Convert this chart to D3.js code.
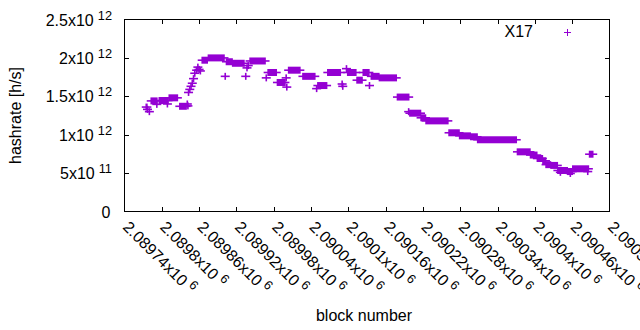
<!DOCTYPE html>
<html><head><meta charset="utf-8">
<script src="https://cdn.jsdelivr.net/npm/d3@7"></script>
<style>html,body{margin:0;padding:0;background:#fff;}svg{display:block;font-family:"Liberation Sans",Arial,sans-serif;}</style>
</head><body>
<svg id="c" width="640" height="330"></svg>
<script>
// Runs of consecutive blocks sharing the same hashrate (block start, block end, hashrate in h/s)
const runStart = [2089775,2089777,2089780,2089783,2089792,2089796,2089809,2089812,2089829,2089841,2089842,2089843,2089845,2089847,2089849,2089851,2089853,2089856,2089858,2089860,2089862,2089865,2089875,2089902,2089904,2089914,2089935,2089937,2089939,2089942,2089968,2089971,2089986,2090000,2090001,2090004,2090027,2090049,2090051,2090067,2090090,2090091,2090097,2090099,2090114,2090124,2090134,2090137,2090150,2090179,2090197,2090199,2090217,2090225,2090262,2090279,2090297,2090308,2090372,2090393,2090404,2090413,2090418,2090426,2090437,2090441,2090453,2090457,2090461,2090485,2090488];
const runEnd   = [2089776,2089777,2089780,2089792,2089792,2089810,2089809,2089825,2089839,2089841,2089842,2089843,2089845,2089847,2089849,2089851,2089853,2089856,2089858,2089860,2089862,2089873,2089900,2089902,2089913,2089932,2089935,2089937,2089939,2089966,2089968,2089984,2089998,2090000,2090001,2090022,2090046,2090049,2090065,2090087,2090090,2090091,2090097,2090112,2090122,2090133,2090134,2090149,2090177,2090197,2090197,2090216,2090224,2090260,2090278,2090296,2090307,2090370,2090392,2090403,2090412,2090417,2090425,2090436,2090452,2090441,2090460,2090457,2090486,2090485,2090493];
const runValue = [1.36e12,1.33e12,1.30e12,1.44e12,1.395e12,1.445e12,1.40e12,1.48e12,1.37e12,1.40e12,1.375e12,1.55e12,1.59e12,1.63e12,1.67e12,1.73e12,1.80e12,1.84e12,1.88e12,1.85e12,1.83e12,1.97e12,2.00e12,1.76e12,1.95e12,1.93e12,1.76e12,1.87e12,1.90e12,1.96e12,1.74e12,1.81e12,1.68e12,1.74e12,1.62e12,1.84e12,1.76e12,1.60e12,1.64e12,1.81e12,1.66e12,1.63e12,1.86e12,1.81e12,1.71e12,1.81e12,1.64e12,1.76e12,1.74e12,1.49e12,1.30e12,1.28e12,1.22e12,1.18e12,1.025e12,0.985e12,0.973e12,0.934e12,0.777e12,0.735e12,0.69e12,0.66e12,0.61e12,0.60e12,0.534e12,0.51e12,0.52e12,0.495e12,0.556e12,0.52e12,0.746e12];

const xTicks = [2089740,2089800,2089860,2089920,2089980,2090040,2090100,2090160,2090220,2090280,2090340,2090400,2090460,2090520];
const xTickMant = ["2.08974","2.0898","2.08986","2.08992","2.08998","2.09004","2.0901","2.09016","2.09022","2.09028","2.09034","2.0904","2.09046","2.09052"];
const xTickExp = "6";
const yTicks = [0,5e11,1e12,1.5e12,2e12,2.5e12];
const yTickMant = ["0","5x10","1x10","1.5x10","2x10","2.5x10"];
const yTickExp = ["","11","12","12","12","12"];
const seriesName = "X17";
const xTitle = "block number";
const yTitle = "hashrate [h/s]";

const color = "#9400d3";
const L = 124.5, R = 609.5, T = 19.5, B = 211.5;
const svg = d3.select("#c");
const x = d3.scaleLinear().domain([xTicks[0], xTicks[xTicks.length-1]]).range([L, R]);
const y = d3.scaleLinear().domain([0, 2.5e12]).range([B, T]);

// ticks (mirrored, inward)
const tk = 4.5;
const g = svg.append("g").attr("stroke","#000").attr("stroke-width",1);
xTicks.slice(1,-1).forEach(v=>{
  const xx = Math.round(x(v)) + 0.5;
  g.append("line").attr("x1",xx).attr("x2",xx).attr("y1",B).attr("y2",B-tk);
  g.append("line").attr("x1",xx).attr("x2",xx).attr("y1",T).attr("y2",T+tk);
});
yTicks.slice(1,-1).forEach(v=>{
  const yy = Math.round(y(v)) + 0.5;
  g.append("line").attr("x1",L).attr("x2",L+tk).attr("y1",yy).attr("y2",yy);
  g.append("line").attr("x1",R).attr("x2",R-tk).attr("y1",yy).attr("y2",yy);
});

// y labels
yTicks.forEach((v,i)=>{
  const yy = y(v);
  const t = svg.append("text").attr("y", yy+6).attr("font-size",16).attr("fill","#000")
    .attr("text-anchor","end");
  if (yTickExp[i]) {
    t.attr("x", 112);
    t.append("tspan").text(yTickMant[i]);
    t.append("tspan").attr("font-size",12.8).attr("dx",4).attr("dy",-6).text(yTickExp[i]);
  } else {
    t.attr("x", 110.5).text(yTickMant[i]);
  }
});

// x labels rotated
xTicks.forEach((v,i)=>{
  const xx = x(v) - 2.5, yy = 228;
  const t = svg.append("text").attr("transform",`translate(${xx},${yy}) rotate(45)`)
    .attr("font-size",16).attr("fill","#000");
  t.append("tspan").text(xTickMant[i]+"x10");
  t.append("tspan").attr("font-size",12.8).attr("dx",4).attr("dy",-6).text(xTickExp);
});

// titles
svg.append("text").attr("x",364).attr("y",321).attr("text-anchor","middle").attr("font-size",16).text(xTitle);
svg.append("text").attr("transform","translate(21,115.5) rotate(-90)").attr("text-anchor","middle").attr("font-size",16).text(yTitle);

// data: each run of '+' points -> union of crosses
const hw = 4.5, hh = 3.5, sw = 1.6;
const runs = runStart.map((s,i)=>({s, e: runEnd[i], v: runValue[i]}));
const dg = svg.append("g");
dg.selectAll("rect.v").data(runs).join("rect")
  .attr("x", d=>x(d.s)-sw/2).attr("width", d=>x(d.e)-x(d.s)+sw)
  .attr("y", d=>y(d.v)-hh).attr("height", 2*hh).attr("fill", color);
dg.selectAll("rect.h").data(runs).join("rect")
  .attr("x", d=>x(d.s)-hw).attr("width", d=>x(d.e)-x(d.s)+2*hw)
  .attr("y", d=>y(d.v)-sw/2).attr("height", sw).attr("fill", color);

// frame
svg.append("rect").attr("x",L).attr("y",T).attr("width",R-L).attr("height",B-T)
  .attr("fill","none").attr("stroke","#000").attr("stroke-width",1);

// legend
svg.append("text").attr("x",533).attr("y",37).attr("text-anchor","end").attr("font-size",16).text(seriesName);
const lg = svg.append("g").attr("stroke",color).attr("stroke-width",1);
lg.append("line").attr("x1",564).attr("x2",571).attr("y1",32.5).attr("y2",32.5);
lg.append("line").attr("x1",567.5).attr("x2",567.5).attr("y1",29).attr("y2",36);
</script>
</body></html>
